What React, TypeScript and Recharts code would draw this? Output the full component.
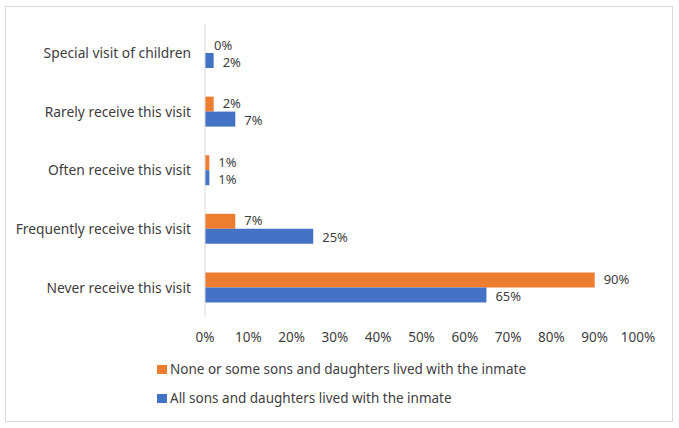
import React from 'react';
import { BarChart, Bar, XAxis, YAxis, LabelList } from 'recharts';

const categories = [
  'Special visit of children',
  'Rarely receive this visit',
  'Often receive this visit',
  'Frequently receive this visit',
  'Never receive this visit',
];
const noneOrSome = [0, 2, 1, 7, 90];
const allLived = [2, 7, 1, 25, 65];
const xTicks = [0, 10, 20, 30, 40, 50, 60, 70, 80, 90, 100];

const seriesNames = {
  noneOrSome: 'None or some sons and daughters lived with the inmate',
  allLived: 'All sons and daughters lived with the inmate',
};

const ORANGE = '#ED7D31';
const BLUE = '#4472C4';
const TEXT = '#404040';
const FONT = '"Noto Sans", sans-serif';

const data = categories.map((name, i) => ({
  name,
  noneOrSome: noneOrSome[i],
  allLived: allLived[i],
}));

const pct = (v: number) => `${v}%`;

// value labels to the right of each bar; nudge lets the two series' labels breathe
const makeLabel = (nudge: number) => (props: any) => {
  const { x, y, width, height, value } = props;
  return (
    <text
      x={Number(x) + Number(width || 0) + 9}
      y={Number(y) + Number(height) / 2 + nudge}
      dominantBaseline="central"
      fill={TEXT}
      fontSize={13}
      fontFamily={FONT}
    >
      {pct(value)}
    </text>
  );
};

const App: React.FC = () => {
  return (
    <div
      style={{
        position: 'absolute',
        left: 5,
        top: 6,
        width: 666,
        height: 414,
        border: '1px solid #d9d9d9',
        background: '#fff',
        fontFamily: FONT,
      }}
    >
      <BarChart
        width={666}
        height={414}
        data={data}
        layout="vertical"
        margin={{ top: 17, right: 34, left: 0, bottom: 74 }}
        barSize={15}
        barGap={0}
      >
        <XAxis
          type="number"
          domain={[0, 100]}
          ticks={xTicks}
          tickFormatter={pct}
          axisLine={false}
          tickLine={false}
          tick={{ fill: TEXT, fontSize: 13.5, fontFamily: FONT }}
          tickMargin={9}
          height={30}
        />
        <YAxis
          type="category"
          dataKey="name"
          width={199}
          axisLine={{ stroke: '#d9d9d9' }}
          tickLine={false}
          tick={{ fill: TEXT, fontSize: 13.8, fontFamily: FONT }}
          tickMargin={8}
        />
        <Bar
          dataKey="noneOrSome"
          name={seriesNames.noneOrSome}
          fill={ORANGE}
          minPointSize={0.01}
          isAnimationActive={false}
        >
          <LabelList dataKey="noneOrSome" content={makeLabel(-1)} />
        </Bar>
        <Bar dataKey="allLived" name={seriesNames.allLived} fill={BLUE} isAnimationActive={false}>
          <LabelList dataKey="allLived" content={makeLabel(1)} />
        </Bar>
      </BarChart>
      <div style={{ position: 'absolute', left: 151, top: 348, fontSize: 13.5, color: TEXT, lineHeight: '29px' }}>
        {[
          { label: seriesNames.noneOrSome, color: ORANGE },
          { label: seriesNames.allLived, color: BLUE },
        ].map((item) => (
          <div key={item.label} style={{ display: 'flex', alignItems: 'center' }}>
            <span style={{ width: 10, height: 9, background: item.color, marginRight: 3, display: 'inline-block' }} />
            <span>{item.label}</span>
          </div>
        ))}
      </div>
    </div>
  );
};

export default App;
